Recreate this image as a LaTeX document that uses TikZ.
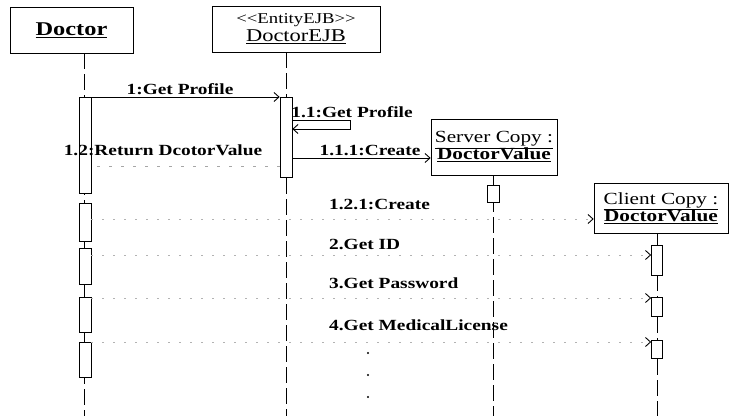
\documentclass[tikz,border=0pt]{standalone}
\usepackage{fontspec}
\setmainfont{Liberation Serif}[FakeStretch=1.25]
\usetikzlibrary{arrows.meta}

\newcommand{\stereo}[1]{<\kern0pt<#1>\kern0pt>}

\begin{document}
\begin{tikzpicture}[x=1pt, y=-1pt,
    obj/.style={draw, line width=0.7pt, inner sep=0pt, align=center},
    act/.style={draw, fill=white, line width=0.7pt, minimum width=12pt, inner sep=0pt, anchor=north},
    life/.style={line width=0.7pt, dash pattern=on 16pt off 5pt},
    msg/.style={line width=0.7pt, -{Straight Barb[length=5pt, width=9pt, line width=0.9pt]}},
    faint/.style={black!30, line width=0.5pt, dash pattern=on 2pt off 9pt,
      -{Straight Barb[length=5pt, width=9pt, line width=0.9pt, black]}},
    ret/.style={black!35, line width=0.5pt, dash pattern=on 3pt off 9pt},
    lbl/.style={font=\fontsize{15.5}{17}\selectfont\bfseries, inner sep=1pt}
  ]
  \useasboundingbox (0,0) rectangle (732,417);

  % objects
  \node[obj, minimum width=123, minimum height=46, font=\fontsize{19.5}{21}\selectfont\bfseries]
    (doc) at (71.5,30) {\underline{Doctor}};
  \node[obj, minimum width=168, minimum height=46, font=\fontsize{18}{19}\selectfont]
    (ejb) at (296,29) {{\fontsize{15}{16}\selectfont\stereo{EntityEJB}}\\[-1pt]\underline{DoctorEJB}};
  \node[obj, minimum width=126, minimum height=56, font=\fontsize{17}{18}\selectfont]
    (srv) at (494,147) {\underline{Server Copy :}\\[-1pt]\underline{\bfseries DoctorValue}};
  \node[obj, minimum width=134, minimum height=50, font=\fontsize{17}{18}\selectfont]
    (cli) at (661,208) {\underline{Client Copy :}\\[-1pt]\underline{\bfseries DoctorValue}};

  % lifelines
  \coordinate (docL) at (84,416);
  \coordinate (ejbL) at (286,416);
  \coordinate (srvL) at (493,416);
  \coordinate (cliL) at (657,416);
  \draw[life] (doc.south -| docL) -- (docL);
  \draw[life] (ejb.south -| ejbL) -- (ejbL);
  \draw[life] (srv.south -| srvL) -- (srvL);
  \draw[life] (cli.south -| cliL) -- (cliL);

  % activations
  \node[act, minimum height=96] (dact1) at (85,97) {};
  \foreach \n/\t/\h in {2/203/38, 3/248/36, 4/297/35, 5/342/35}
    \node[act, minimum height=\h] (dact\n) at (85,\t) {};
  \node[act, minimum height=80] (eact1) at (286,97) {};
  \node[act, minimum height=17] (sact1) at (493,185) {};
  \foreach \n/\t/\h in {1/245/30, 2/297/19, 3/340/18}
    \node[act, minimum width=11, minimum height=\h] (cact\n) at (657,\t) {};

  % message levels
  \coordinate (self) at (350,120);
  \coordinate (selfb) at (350,129);
  \coordinate (y111) at (0,158);
  \coordinate (y12) at (0,166);
  \coordinate (y121) at (0,219);
  \coordinate (y2) at (0,255);
  \coordinate (y3) at (0,298);
  \coordinate (y4) at (0,342);

  % messages
  \draw[msg] (dact1.north east) -- (eact1.north west);
  \node[lbl] (m1) at (180,89) {1:Get Profile};
  \draw[msg] (eact1.east |- self) -- (self) -- (selfb) -- (eact1.east |- selfb);
  \node[lbl] (m11) at (352,112) {1.1:Get Profile};
  \draw[msg] (eact1.east |- y111) -- (srv.west |- y111);
  \node[lbl] (m111) at (370,150) {1.1.1:Create};
  \draw[ret] (eact1.west |- y12) -- (dact1.east |- y12);
  \node[lbl] (m12) at (163,150) {1.2:Return DcotorValue};
  \draw[faint] (dact2.east |- y121) -- (cli.west |- y121);
  \node[lbl, anchor=west] (m121) at (328,204) {1.2.1:Create};
  \draw[faint] (dact3.east |- y2) -- (cact1.west |- y2);
  \node[lbl, anchor=west] (m2) at (328,244) {2.Get ID};
  \draw[faint] (dact4.east |- y3) -- (cact2.west |- y3);
  \node[lbl, anchor=west] (m3) at (328,283) {3.Get Password};
  \draw[faint] (dact5.east |- y4) -- (cact3.west |- y4);
  \node[lbl, anchor=west] (m4) at (328,325) {4.Get MedicalLicense};

  % continuation dots
  \foreach \y in {353,375,397}
    \fill (368,\y) circle (1.2pt);
\end{tikzpicture}
\end{document}
